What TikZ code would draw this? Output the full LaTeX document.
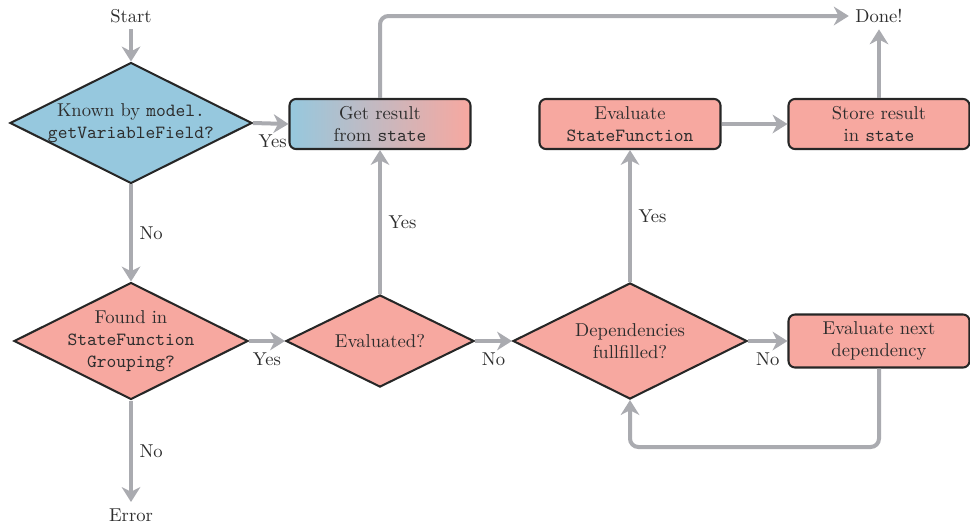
\documentclass[tikz,border=0pt]{standalone}
\usetikzlibrary{shapes.geometric,arrows.meta}
\definecolor{cblue}{RGB}{150,200,222}
\definecolor{csalmon}{RGB}{247,168,160}
\definecolor{carrow}{RGB}{170,171,176}
\definecolor{ctext}{RGB}{45,45,45}
\begin{document}
\begin{tikzpicture}[x=0.5376pt,y=-0.5376pt,
  every node/.style={text=ctext,font=\normalsize},
  dia/.style={diamond,draw=black!85,line width=1.1pt,inner sep=0pt,fill=csalmon},
  box/.style={rectangle,draw=black!85,line width=1.1pt,rounded corners=3.5pt,fill=csalmon,
    minimum width=97.3pt,minimum height=26.9pt,align=center,inner sep=0pt},
  arr/.style={draw=carrow,line width=2.15pt,-{Stealth[length=8pt,width=10pt,inset=2.5pt]},rounded corners=4.5pt},
  lab/.style={text=ctext,inner sep=2pt}
]
\useasboundingbox (0,0) rectangle (970,524);

\node (start) at (131,16) {Start};
\node[dia,fill=cblue,minimum width=130.1pt,minimum height=65pt,
  label={[align=center,text=ctext]center:Known by \texttt{model.}\\\texttt{getVariableField?}}] (d1) at (131,123) {};
\node[box,left color=cblue,right color=csalmon] (b1) at (380,124) {Get result\\from \texttt{state}};
\node[dia,minimum width=125.8pt,minimum height=62.9pt,
  label={[align=center,text=ctext]center:Found in\\\texttt{StateFunction}\\\texttt{Grouping?}}] (d2) at (131,341) {};
\node[dia,minimum width=101.1pt,minimum height=49.5pt,
  label={[align=center,text=ctext]center:Evaluated?}] (d3) at (380,341) {};
\node[dia,minimum width=125.8pt,minimum height=62.4pt,
  label={[align=center,text=ctext]center:Dependencies\\fullfilled?}] (d4) at (630,341) {};
\node[box] (b2) at (630,124) {Evaluate\\\texttt{StateFunction}};
\node[box] (b3) at (879,124) {Store result\\in \texttt{state}};
\node[box,minimum height=28.5pt] (b4) at (879,341) {Evaluate next\\dependency};
\node (done) at (879,16) {Done!};
\node (error) at (131,515) {Error};
\coordinate (loop) at (630,447);

\draw[arr] (start) -- (d1.north);
\draw[arr] (d1.east) -- node[lab,below,yshift=-3pt,xshift=1pt] {Yes} (b1.west);
\draw[arr] (d1.south) -- node[lab,right,xshift=1.5pt] {No} (d2.north);
\draw[arr] (b1.north) |- (done.west);
\draw[arr] (d2.south) -- node[lab,right,xshift=1.5pt] {No} (error);
\draw[arr] (d2.east) -- node[lab,below,yshift=-3pt] {Yes} (d3.west);
\draw[arr] (d3.north) -- node[lab,right,xshift=1.5pt] {Yes} (b1.south);
\draw[arr] (d3.east) -- node[lab,below,yshift=-3pt] {No} (d4.west);
\draw[arr] (d4.north) -- node[lab,right,xshift=1.5pt] {Yes} (b2.south);
\draw[arr] (d4.east) -- node[lab,below,yshift=-3pt] {No} (b4.west);
\draw[arr] (b2.east) -- (b3.west);
\draw[arr] (b3.north) -- (done.south);
\draw[arr] (b4.south) |- (loop) -- (d4.south);
\end{tikzpicture}
\end{document}
